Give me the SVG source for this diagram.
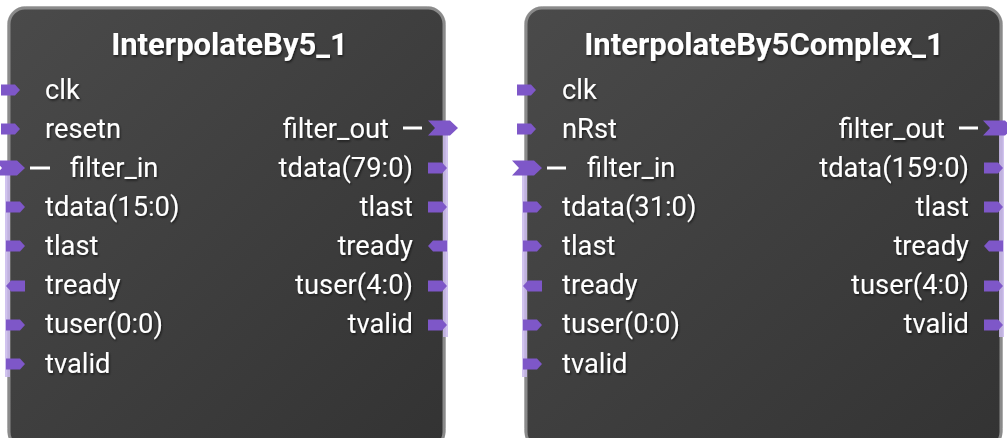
<svg xmlns="http://www.w3.org/2000/svg" width="1007" height="438" viewBox="0 0 1007 438">
<defs>
<linearGradient id="bg" x1="0" y1="0" x2="1" y2="1">
<stop offset="0" stop-color="#4a4a4a"/>
<stop offset="1" stop-color="#333333"/>
</linearGradient>
<filter id="sh" x="-5%" y="-20%" width="110%" height="140%">
<feDropShadow dx="1" dy="1.5" stdDeviation="0.8" flood-color="#000" flood-opacity="0.6"/>
</filter>
<path id="pr" d="M0,-5.5 H14 L19,0 L14,5.5 H0 Z"/>
<path id="pl" d="M0,0 L5,-5.5 H19 V5.5 H5 Z"/>
<path id="bus" d="M0,-7.5 H22 L30,0 L22,7.5 H0 L7,0 Z"/>
</defs>
<style>
.box{fill:url(#bg);stroke:#8a8a8a;stroke-width:3}
.halo{fill:none;stroke:#cfcfcf;stroke-width:1}
.title{font-family:Roboto,"Liberation Sans",sans-serif;font-weight:bold;font-size:31px;fill:#fff;text-anchor:middle}
.lbl{font-family:Roboto,"Liberation Sans",sans-serif;font-size:27.3px;fill:#fff}
.r{text-anchor:end}
.port{fill:#7e57c8}
.strip{fill:#c9b8ec;opacity:0.85}
.dash{stroke:#fff;stroke-width:3}
</style>
<g id="InterpolateBy5_1">
<rect class="halo" x="7.5" y="6.5" width="438" height="440" rx="18"/>
<rect class="box" x="9" y="8" width="435" height="440" rx="16"/>
<rect class="strip" x="5" y="168" width="5" height="209"/>
<rect class="strip" x="443" y="129" width="5" height="208"/>
<g filter="url(#sh)">
<text class="title" x="229.5" y="55">InterpolateBy5_1</text>
<text class="lbl" x="45" y="99">clk</text>
<text class="lbl" x="45" y="138">resetn</text>
<text class="lbl" x="70" y="177">filter_in</text>
<text class="lbl" x="45" y="216">tdata(15:0)</text>
<text class="lbl" x="45" y="255">tlast</text>
<text class="lbl" x="45" y="294">tready</text>
<text class="lbl" x="45" y="333">tuser(0:0)</text>
<text class="lbl" x="45" y="373">tvalid</text>
<text class="lbl r" x="389" y="138">filter_out</text>
<text class="lbl r" x="413" y="177">tdata(79:0)</text>
<text class="lbl r" x="413" y="216">tlast</text>
<text class="lbl r" x="413" y="255">tready</text>
<text class="lbl r" x="413" y="294">tuser(4:0)</text>
<text class="lbl r" x="413" y="333">tvalid</text>
</g>
<line class="dash" x1="30" y1="168" x2="50" y2="168"/>
<line class="dash" x1="403" y1="128" x2="422" y2="128"/>
<use class="port" href="#pr" x="1" y="90"/>
<use class="port" href="#pr" x="1" y="129"/>
<use class="port" href="#bus" x="-5" y="168"/>
<use class="port" href="#pr" x="6" y="207"/>
<use class="port" href="#pr" x="6" y="246"/>
<use class="port" href="#pl" x="6" y="286"/>
<use class="port" href="#pr" x="6" y="325"/>
<use class="port" href="#pr" x="6" y="364"/>
<use class="port" href="#bus" x="428" y="128"/>
<use class="port" href="#pr" x="428" y="168"/>
<use class="port" href="#pr" x="428" y="207"/>
<use class="port" href="#pl" x="428" y="246"/>
<use class="port" href="#pr" x="428" y="286"/>
<use class="port" href="#pr" x="428" y="325"/>
</g>
<g id="InterpolateBy5Complex_1">
<rect class="halo" x="524.5" y="6.5" width="478" height="440" rx="18"/>
<rect class="box" x="526" y="8" width="475" height="440" rx="16"/>
<rect class="strip" x="522" y="168" width="5" height="209"/>
<rect class="strip" x="999" y="129" width="5" height="208"/>
<g filter="url(#sh)">
<text class="title" x="764" y="55">InterpolateBy5Complex_1</text>
<text class="lbl" x="562" y="99">clk</text>
<text class="lbl" x="562" y="138">nRst</text>
<text class="lbl" x="587" y="177">filter_in</text>
<text class="lbl" x="562" y="216">tdata(31:0)</text>
<text class="lbl" x="562" y="255">tlast</text>
<text class="lbl" x="562" y="294">tready</text>
<text class="lbl" x="562" y="333">tuser(0:0)</text>
<text class="lbl" x="562" y="373">tvalid</text>
<text class="lbl r" x="945" y="138">filter_out</text>
<text class="lbl r" x="969" y="177">tdata(159:0)</text>
<text class="lbl r" x="969" y="216">tlast</text>
<text class="lbl r" x="969" y="255">tready</text>
<text class="lbl r" x="969" y="294">tuser(4:0)</text>
<text class="lbl r" x="969" y="333">tvalid</text>
</g>
<line class="dash" x1="547" y1="168" x2="566" y2="168"/>
<line class="dash" x1="959" y1="128" x2="978" y2="128"/>
<use class="port" href="#pr" x="517" y="90"/>
<use class="port" href="#pr" x="517" y="129"/>
<use class="port" href="#bus" x="512" y="168"/>
<use class="port" href="#pr" x="523" y="207"/>
<use class="port" href="#pr" x="523" y="246"/>
<use class="port" href="#pl" x="523" y="286"/>
<use class="port" href="#pr" x="523" y="325"/>
<use class="port" href="#pr" x="523" y="364"/>
<use class="port" href="#bus" x="983" y="128"/>
<use class="port" href="#pr" x="984" y="168"/>
<use class="port" href="#pr" x="984" y="207"/>
<use class="port" href="#pl" x="984" y="246"/>
<use class="port" href="#pr" x="984" y="286"/>
<use class="port" href="#pr" x="984" y="325"/>
</g>
<g id="connectors"/>
</svg>
